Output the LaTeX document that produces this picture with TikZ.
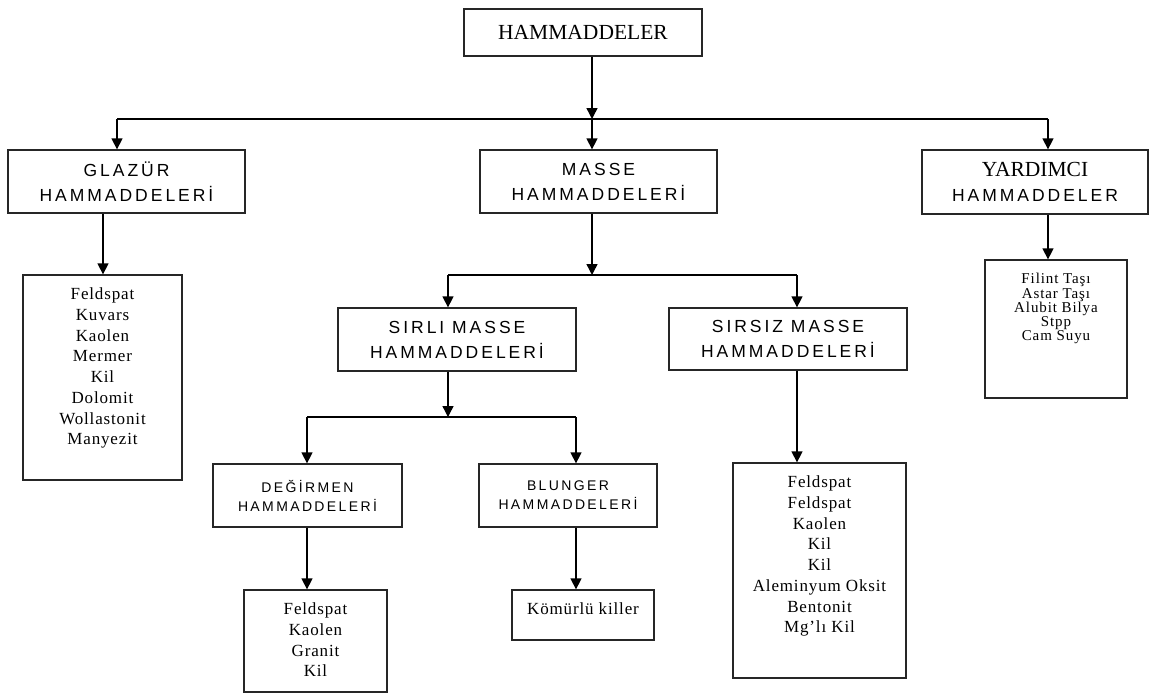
\documentclass[tikz,border=0pt]{standalone}
\usepackage{fontspec}
\setmainfont{Liberation Serif}
\newfontfamily\boxsans{Liberation Sans}[LetterSpace=17]
\newfontfamily\listserif{Liberation Serif}[LetterSpace=5]
\newfontfamily\ylistserif{Liberation Serif}[LetterSpace=6]
\usetikzlibrary{arrows.meta}
\tikzset{
  box/.style={draw=black!85, line width=1.3pt, rectangle, inner sep=0pt, align=center},
  bigsans/.style={font=\boxsans\fontsize{17.5}{25}\selectfont},
  smallsans/.style={font=\boxsans\fontsize{14}{19}\selectfont},
  listtxt/.style={font=\listserif\fontsize{17}{20.7}\selectfont, align=center, inner sep=0pt, anchor=north},
  conn/.style={line width=1.4pt, draw=black},
  arr/.style={conn, -{Triangle[width=11pt,length=11pt]}},
}
\begin{document}
\begin{tikzpicture}[x=1pt,y=-1pt]
\useasboundingbox[fill=white] (0,0) rectangle (1151,699);

% boxes
\node[box, minimum width=238pt, minimum height=47pt, font=\fontsize{21.5}{25}\selectfont] (top) at (583,32.5) {HAMMADDELER};
\node[box, bigsans, minimum width=237pt, minimum height=63pt] (glaz) at (126.5,181.5) {GLAZÜR\\HAMMADDELERİ};
\node[box, bigsans, minimum width=237pt, minimum height=63pt] (masse) at (598.5,181.5) {MASSE\\HAMMADDELERİ};
\node[box, minimum width=226pt, minimum height=64pt, font=\fontsize{21.5}{25}\selectfont] (yard) at (1035,182) {YARDIMCI\\{\boxsans\fontsize{17.5}{25}\selectfont HAMMADDELER}};
\node[box, bigsans, minimum width=238pt, minimum height=63pt] (sirli) at (457,339.5) {SIRLI MASSE\\HAMMADDELERİ};
\node[box, bigsans, minimum width=238pt, minimum height=62pt] (sirsiz) at (788,339) {SIRSIZ MASSE\\HAMMADDELERİ};
\node[box, smallsans, minimum width=189pt, minimum height=63pt] (deg) at (307.5,495.5) {DEĞİRMEN\\HAMMADDELERİ};
\node[box, smallsans, minimum width=178pt, minimum height=63pt] (blun) at (568,495.5) {BLUNGER\\HAMMADDELERİ};

% list boxes
\node[box, minimum width=159pt, minimum height=205pt] (glist) at (102.5,377.5) {};
\node[box, minimum width=143pt, minimum height=102pt] (dlist) at (315.5,641) {};
\node[box, minimum width=142pt, minimum height=50pt] (klist) at (583,615) {};
\node[box, minimum width=173pt, minimum height=215pt] (slist) at (819.5,570.5) {};
\node[box, minimum width=142pt, minimum height=138pt] (ylist) at (1056,329) {};

% list texts
\node[listtxt] (glistt) at ([yshift=-13.5pt]glist.north) {Feldspat\\Kuvars\\Kaolen\\Mermer\\Kil\\Dolomit\\Wollastonit\\Manyezit};
\node[listtxt] (dlistt) at ([yshift=-13.5pt]dlist.north) {Feldspat\\Kaolen\\Granit\\Kil};
\node[listtxt] (klistt) at ([yshift=-13.5pt]klist.north) {Kömürlü killer};
\node[listtxt] (slistt) at ([yshift=-13.5pt]slist.north) {Feldspat\\Feldspat\\Kaolen\\Kil\\Kil\\Aleminyum Oksit\\Bentonit\\Mg’lı Kil};
\node[listtxt, font=\ylistserif\fontsize{15}{14.2}\selectfont] (ylistt) at ([yshift=-14pt]ylist.north) {Filint Taşı\\Astar Taşı\\Alubit Bilya\\Stpp\\Cam Suyu};

% junction coordinates
\coordinate (gA) at (117,119);
\coordinate (mA) at (592,119);
\coordinate (yA) at (1048,119);
\coordinate (gB) at (103,119);
\coordinate (mB) at (592,275);
\coordinate (sL) at (448,275);
\coordinate (sR) at (797,275);
\coordinate (sC) at (448,417);
\coordinate (dL) at (307,417);
\coordinate (bR) at (576,417);

% level 1
\draw[arr] (mA |- top.south) -- (mA);
\draw[conn] (gA) -- (yA);
\draw[arr] (gA) -- (gA |- glaz.north);
\draw[arr] (mA) -- (mA |- masse.north);
\draw[arr] (yA) -- (yA |- yard.north);

% glazur and yardimci lists
\draw[arr] (gB |- glaz.south) -- (gB |- glist.north);
\draw[arr] (yA |- yard.south) -- (yA |- ylist.north);

% masse
\draw[arr] (mB |- masse.south) -- (mB);
\draw[conn] (sL) -- (sR);
\draw[arr] (sL) -- (sL |- sirli.north);
\draw[arr] (sR) -- (sR |- sirsiz.north);

% sirli
\draw[arr] (sC |- sirli.south) -- (sC);
\draw[conn] (dL) -- (bR);
\draw[arr] (dL) -- (dL |- deg.north);
\draw[arr] (bR) -- (bR |- blun.north);

% bottom lists
\draw[arr] (dL |- deg.south) -- (dL |- dlist.north);
\draw[arr] (bR |- blun.south) -- (bR |- klist.north);
\draw[arr] (sR |- sirsiz.south) -- (sR |- slist.north);
\end{tikzpicture}
\end{document}
